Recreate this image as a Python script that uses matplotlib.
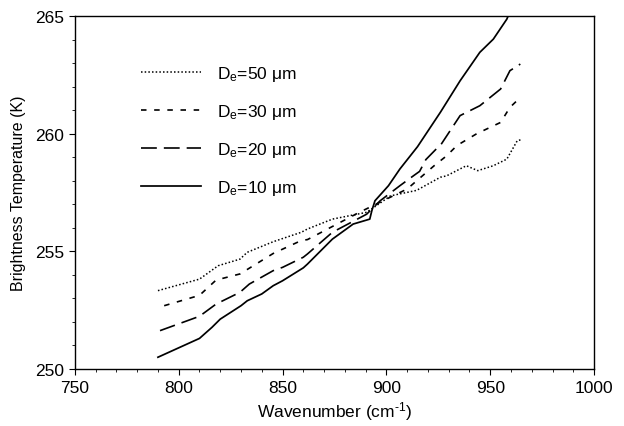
import matplotlib
matplotlib.use('Agg')
import matplotlib.pyplot as plt
from matplotlib.ticker import MultipleLocator

plt.rcParams['font.family'] = ['Liberation Sans', 'DejaVu Sans']
plt.rcParams['mathtext.fontset'] = 'custom'
plt.rcParams['mathtext.rm'] = 'Liberation Sans'
plt.rcParams['mathtext.it'] = 'Liberation Sans'

# De = 10 um
wn10 = [790, 810, 816, 820, 830, 833, 840, 845.5, 850, 860, 862, 874, 884, 892, 893,
        894.5, 901, 906.5, 915, 926, 935.5, 945, 951.5, 958, 960]
bt10 = [250.5, 251.3, 251.77, 252.12, 252.69, 252.9, 253.19, 253.54, 253.75, 254.3, 254.46,
        255.52, 256.16, 256.37, 256.73, 257.15, 257.79, 258.5, 259.45, 260.91, 262.25,
        263.46, 264.02, 264.87, 265.3]
# De = 20 um
wn20 = [791, 810, 818, 829.5, 834, 845.5, 850, 860, 862, 874, 890.5, 897, 906.5, 913, 916,
        919, 924, 926, 935.5, 945, 955, 959.5, 964.5]
bt20 = [251.63, 252.24, 252.76, 253.26, 253.61, 254.18, 254.32, 254.75, 254.89, 255.81,
        256.58, 257.15, 257.79, 258.21, 258.4, 258.9, 259.35, 259.5, 260.77, 261.19, 261.9,
        262.68, 262.96]
# De = 30 um
wn30 = [793, 810, 818, 829.5, 845.5, 859, 862, 887, 910, 923, 929, 934, 943.5, 955,
        959.5, 964.5]
bt30 = [252.69, 253.13, 253.78, 254.04, 254.91, 255.46, 255.5, 256.66, 257.65, 258.64,
        259.06, 259.5, 260.0, 260.48, 261.12, 261.54]
# De = 50 um
wn50 = [790, 810, 819, 829.5, 833, 845.5, 859, 862, 874, 890.5, 894, 902, 914.5, 926,
        929, 938.5, 944, 951.5, 958, 963, 965]
bt50 = [253.33, 253.82, 254.39, 254.67, 254.96, 255.41, 255.81, 255.95, 256.37, 256.66,
        256.87, 257.36, 257.59, 258.15, 258.21, 258.64, 258.43, 258.64, 258.92, 259.7, 259.75]

fig = plt.figure(figsize=(6.24, 4.27), dpi=100)
ax = fig.add_axes([0.120, 0.1335, 0.832, 0.8265])

ax.plot(wn50, bt50, color='black', lw=1.1, ls=(0, (1, 1.4)), label=r'D$_\mathrm{e}$=50 μm')
ax.plot(wn30, bt30, color='black', lw=1.2, ls=(0, (3.3, 4.6)), label=r'D$_\mathrm{e}$=30 μm')
ax.plot(wn20, bt20, color='black', lw=1.2, ls=(0, (9.5, 4.2)), label=r'D$_\mathrm{e}$=20 μm')
ax.plot(wn10, bt10, color='black', lw=1.25, ls='-', label=r'D$_\mathrm{e}$=10 μm')

ax.set_xlim(750, 1000)
ax.set_ylim(250, 265)
ax.xaxis.set_major_locator(MultipleLocator(50))
ax.xaxis.set_minor_locator(MultipleLocator(10))
ax.yaxis.set_major_locator(MultipleLocator(5))
ax.yaxis.set_minor_locator(MultipleLocator(1))
ax.tick_params(which='major', direction='out', length=4, width=0.8, labelsize=12.5, pad=4)
ax.tick_params(which='minor', direction='out', length=2, width=0.6)
for s in ax.spines.values():
    s.set_linewidth(1.0)

ax.set_xlabel('Wavenumber (cm$^{\u2010 1}$)', fontsize=12.5, labelpad=3)
ax.set_ylabel('Brightness Temperature (K)', fontsize=11.5, labelpad=6)

ax.legend(loc='upper left', bbox_to_anchor=(0.128, 0.863), frameon=False,
          fontsize=12.5, handlelength=3.45, handletextpad=0.92, labelspacing=1.08,
          borderpad=0, borderaxespad=0)

fig.savefig('out.png', dpi=100)
